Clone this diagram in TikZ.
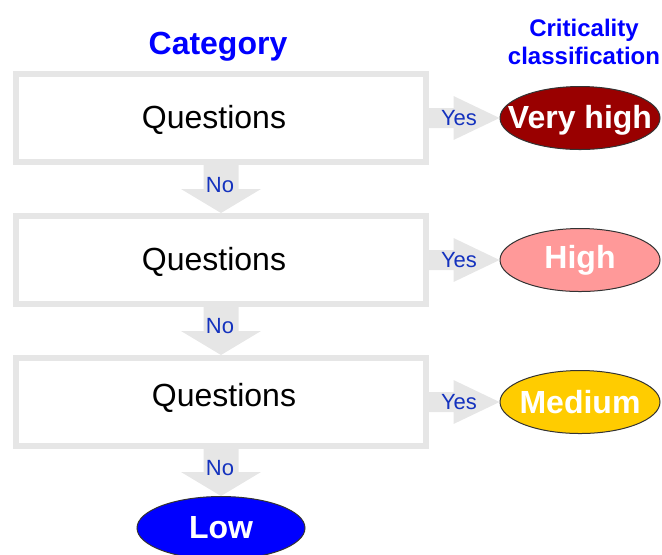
\documentclass[tikz,border=0pt]{standalone}
\usepackage{fontspec}
\setmainfont{Liberation Sans}
\usetikzlibrary{shapes.geometric}

\definecolor{boxgray}{RGB}{230,230,230}
\definecolor{titleblue}{RGB}{0,0,255}
\definecolor{answerblue}{RGB}{20,50,190}
\definecolor{veryhighred}{RGB}{153,0,0}
\definecolor{highpink}{RGB}{255,153,153}
\definecolor{mediumgold}{RGB}{255,204,0}
\definecolor{lowblue}{RGB}{0,0,255}

\tikzset{
    catbox/.style={draw=boxgray, fill=white, line width=3pt, minimum width=205pt, minimum height=44pt, inner sep=0pt},
    crit/.style={ellipse, draw=black!80, line width=0.5pt, fill=#1, minimum width=80pt, minimum height=31.5pt, inner sep=0pt},
    critlabel/.style={text=white, font=\fontsize{16}{19}\selectfont\bfseries},
    question/.style={font=\fontsize{16}{19}\selectfont},
    answer/.style={text=answerblue, font=\fontsize{11}{13}\selectfont},
    heading/.style={text=titleblue, font=\fontsize{16}{19}\selectfont\bfseries},
    blockarrow/.style={fill=boxgray},
}

\begin{document}
\begin{tikzpicture}[x=0.5pt, y=-0.5pt]
        \useasboundingbox (0,0) rectangle (662,554);

        % headings
        \node[heading] (cat) at (218,47) {Category};
        \node[heading, font=\fontsize{12}{14}\selectfont\bfseries, align=center] (crit) at (584,42) {Criticality\\classification};

        % category boxes
        \node[catbox, label={[question, xshift=-3.5pt, yshift=-1pt]center:Questions}] (b1) at (221,118) {};
        \node[catbox, label={[question, xshift=-3.5pt, yshift=-1pt]center:Questions}] (b2) at (221,260) {};
        \node[catbox, label={[question, xshift=1.5pt, yshift=2pt]center:Questions}] (b3) at (221,402) {};

        % classifications
        \node[crit=veryhighred, label={[critlabel, yshift=-1pt]center:Very high}] (vh) at (580,118) {};
        \node[crit=highpink, label={[critlabel]center:High}] (hi) at (580,260) {};
        \node[crit=mediumgold, label={[critlabel]center:Medium}] (me) at (580,402) {};
        \node[crit=lowblue, minimum width=84pt, label={[critlabel]center:Low}] (lo) at (221,528) {};

        % yes arrows
        \foreach \b/\e in {b1/vh, b2/hi, b3/me}
            \fill[blockarrow] ([yshift=5pt]\b.east) -- ([xshift=-23pt,yshift=5pt]\e.west)
                -- ([xshift=-23pt,yshift=11pt]\e.west) -- (\e.west)
                -- ([xshift=-23pt,yshift=-11pt]\e.west) -- ([xshift=-23pt,yshift=-5pt]\e.west)
                -- ([yshift=-5pt]\b.east) -- cycle;

        % no arrows
        \foreach \a/\b in {b1/b2, b2/b3, b3/lo}
            \fill[blockarrow] ([xshift=-8.75pt]\a.south) -- ([xshift=-8.75pt,yshift=12pt]\b.north)
                -- ([xshift=-20pt,yshift=12pt]\b.north) -- (\b.north)
                -- ([xshift=20pt,yshift=12pt]\b.north) -- ([xshift=8.75pt,yshift=12pt]\b.north)
                -- ([xshift=8.75pt]\a.south) -- cycle;

        \node[answer] (yes1) at (459,118) {Yes};
        \node[answer] (yes2) at (459,260) {Yes};
        \node[answer] (yes3) at (459,402) {Yes};
        \node[answer] (no1) at (220,185) {No};
        \node[answer] (no2) at (220,326) {No};
        \node[answer] (no3) at (220,468) {No};
    \end{tikzpicture}
\end{document}
